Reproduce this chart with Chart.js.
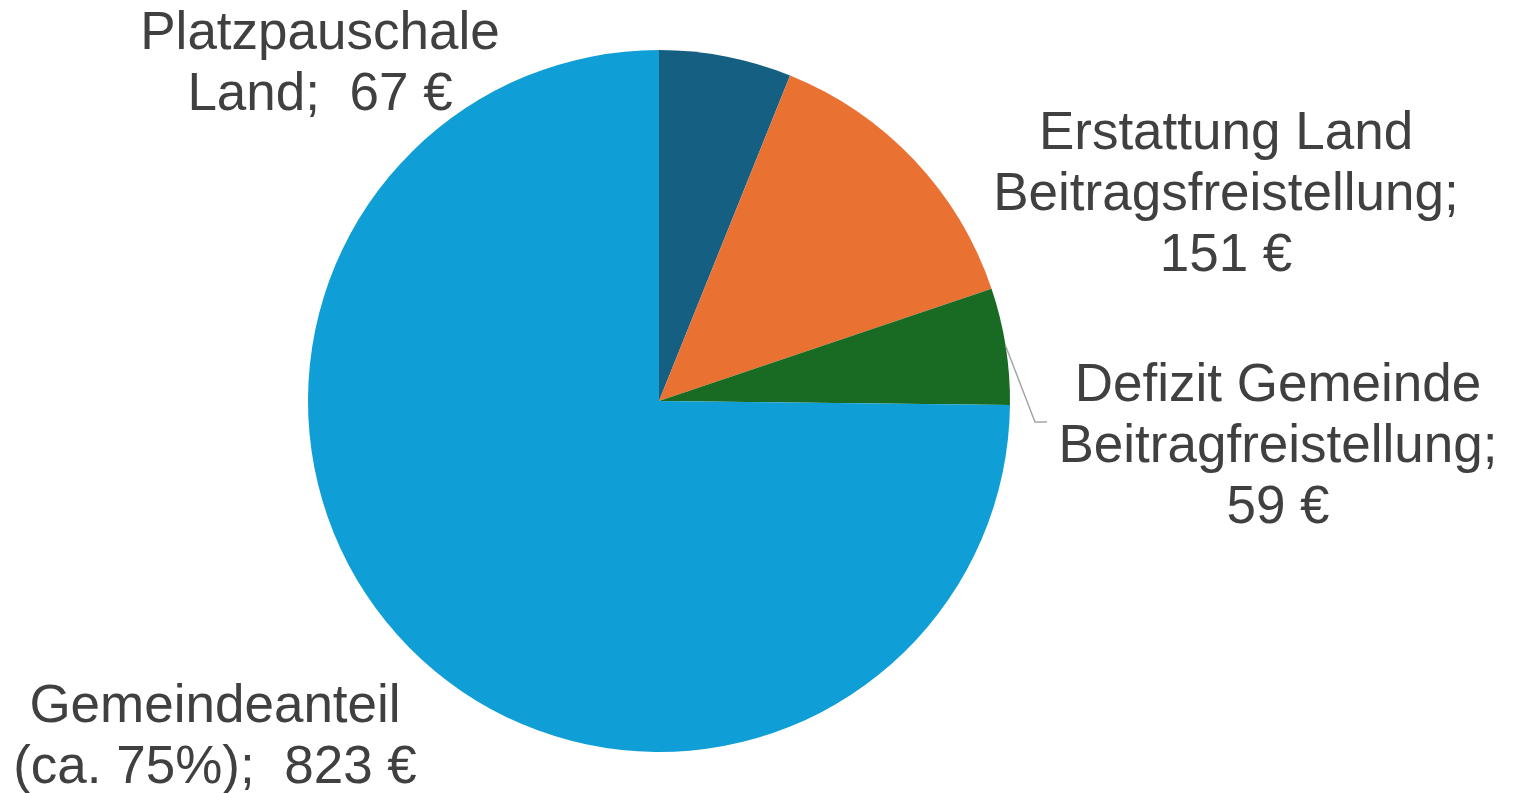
<!DOCTYPE html>
<html>
<head>
<meta charset="utf-8">
<script src="https://cdn.jsdelivr.net/npm/chart.js@4/dist/chart.umd.min.js"></script>
<style>
  html, body { margin: 0; padding: 0; background: #fff; }
  #wrap { width: 1514px; height: 793px; position: relative; }
</style>
</head>
<body>
<div id="wrap"><canvas id="pie"></canvas></div>
<script>
// data
const categories = [
    ['Platzpauschale', 'Land;  67 €'],
    ['Erstattung Land', 'Beitragsfreistellung;', '151 €'],
    ['Defizit Gemeinde', 'Beitragfreistellung;', '59 €'],
    ['Gemeindeanteil', '(ca. 75%);  823 €']
];
const values = [67, 151, 59, 823];
const colors = ['#156082', '#E97132', '#196B24', '#0F9ED5'];

// label centres (first line), relative to the pie centre
const labelOffsets = [[-339, -367], [567, -267], [619, -15], [-444, 306]];
const lineHeight = 61;

const labelPlugin = {
    id: 'sliceLabels',
    afterDraw(chart) {
        const ctx = chart.ctx;
        const arcs = chart.getDatasetMeta(0).data;
        const cx = arcs[0].x, cy = arcs[0].y;
        ctx.save();
        ctx.font = '53px "Liberation Sans", Arial, sans-serif';
        ctx.fillStyle = '#404040';
        ctx.textAlign = 'center';
        ctx.textBaseline = 'middle';
        categories.forEach(function (lines, i) {
            const x = cx + labelOffsets[i][0];
            const y = cy + labelOffsets[i][1];
            lines.forEach(function (t, k) {
                ctx.fillText(t, x, y + k * lineHeight);
            });
        });

        // leader line for the small green slice
        const a = arcs[2];
        const mid = (a.startAngle + a.endAngle) / 2;
        const sx = a.x + Math.cos(mid) * a.outerRadius;
        const sy = a.y + Math.sin(mid) * a.outerRadius;
        ctx.strokeStyle = '#A6A6A6';
        ctx.lineWidth = 1.5;
        ctx.beginPath();
        ctx.moveTo(sx, sy);
        ctx.lineTo(cx + 376, cy + 21);
        ctx.lineTo(cx + 388, cy + 21);
        ctx.stroke();
        ctx.restore();
    }
};

new Chart(document.getElementById('pie').getContext('2d'), {
    type: 'pie',
    data: {
        labels: categories.map(function (c) { return c.join(' '); }),
        datasets: [{
            data: values,
            backgroundColor: colors,
            borderWidth: 0
        }]
    },
    options: {
        responsive: true,
        maintainAspectRatio: false,
        animation: false,
        layout: {
            padding: { left: 308, right: 504, top: 50, bottom: 41 }
        },
        plugins: {
            legend: { display: false },
            tooltip: { enabled: false }
        }
    },
    plugins: [labelPlugin]
});
</script>
</body>
</html>
